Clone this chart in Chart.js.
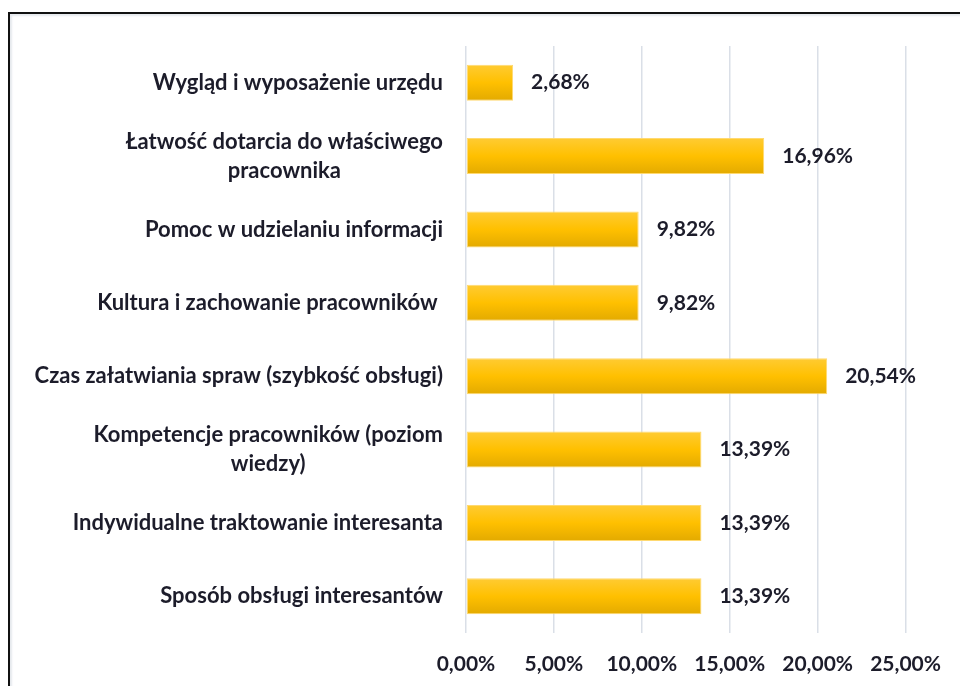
<!DOCTYPE html>
<html>
<head>
<meta charset="utf-8">
<script src="https://cdn.jsdelivr.net/npm/chart.js@4/dist/chart.umd.min.js"></script>
<style>
  html, body { margin: 0; padding: 0; background: #fff; }
  #wrap { position: relative; width: 960px; height: 686px; overflow: hidden; }
  #frame {
    position: absolute; left: 8px; top: 12px; width: 1000px; height: 720px;
    border-left: 2px solid #111; border-top: 2px solid #111;
    box-shadow: inset 2px 2px 2px #e6e9ee;
  }
  canvas { position: absolute; left: 0; top: 0; }
</style>
</head>
<body>
<div id="wrap">
  <div id="frame"></div>
  <canvas id="chart" width="960" height="686"></canvas>
</div>
<script>
// --- DATI ---
const categories = [
  "Wygląd i wyposażenie urzędu",
  ["Łatwość dotarcia do właściwego", "pracownika"],
  "Pomoc w udzielaniu informacji",
  "Kultura i zachowanie pracowników ",
  "Czas załatwiania spraw (szybkość obsługi)",
  ["Kompetencje pracowników (poziom", "wiedzy)"],
  "Indywidualne traktowanie interesanta",
  "Sposób obsługi interesantów"
];

const values = [2.68, 16.96, 9.82, 9.82, 20.54, 13.39, 13.39, 13.39];

const xTicks = [0, 5, 10, 15, 20, 25];

const FONT = "Lato";
const TEXT = "#1c1c2a";
const BAR_PCT = 0.49;

function pct(v) {
  return v.toFixed(2).replace(".", ",") + "%";
}

// gradiente oro per ogni barra
function barFill(c) {
  const ch = c.chart;
  const ys = ch.scales.y;
  const fallback = "#FFC000";
  if (!ys || c.dataIndex == null) return fallback;
  const yc = ys.getPixelForValue(c.dataIndex);
  const h = ys.height / categories.length * BAR_PCT / 2;
  if (!isFinite(yc) || !isFinite(h) || h <= 0) return fallback;
  const g = ch.ctx.createLinearGradient(0, yc - h, 0, yc + h);
  g.addColorStop(0, "#FFCB33");
  g.addColorStop(0.5, "#FFC000");
  g.addColorStop(1, "#E3AA00");
  return g;
}

// --- ETICHETTE CATEGORIE (centrate a blocco, allineate a destra) ---
const categoryLabels = {
  id: "categoryLabels",
  afterDraw(chart) {
    const ctx = chart.ctx;
    const ys = chart.scales.y;
    const right = chart.chartArea.left - 23;
    const lineH = 29;
    ctx.save();
    ctx.font = "bold 22px " + FONT;
    ctx.fillStyle = TEXT;
    ctx.textAlign = "center";
    ctx.textBaseline = "middle";
    categories.forEach((lab, i) => {
      const lines = Array.isArray(lab) ? lab : [lab];
      const w = Math.max(...lines.map(l => ctx.measureText(l).width));
      const cx = right - w / 2;
      const yc = ys.getPixelForValue(i);
      const y0 = yc - (lines.length - 1) * lineH / 2;
      lines.forEach((l, k) => ctx.fillText(l, cx, y0 + k * lineH));
    });
    ctx.restore();
  }
};

// --- VALORI ALLA FINE DELLE BARRE ---
const valueLabels = {
  id: "valueLabels",
  afterDatasetsDraw(chart) {
    const ctx = chart.ctx;
    const meta = chart.getDatasetMeta(0);
    ctx.save();
    ctx.font = "bold 21px " + FONT;
    ctx.fillStyle = TEXT;
    ctx.textAlign = "left";
    ctx.textBaseline = "middle";
    meta.data.forEach((el, i) => {
      ctx.fillText(pct(values[i]), el.x + 18, el.y);
    });
    ctx.restore();
  }
};

new Chart(document.getElementById("chart"), {
  type: "bar",
  data: {
    labels: categories,
    datasets: [{
      data: values,
      backgroundColor: barFill,
      borderColor: "#FFD970",
      borderWidth: 1,
      borderSkipped: false,
      barPercentage: BAR_PCT,
      categoryPercentage: 1
    }]
  },
  options: {
    indexAxis: "y",
    responsive: false,
    devicePixelRatio: 1,
    animation: false,
    layout: { padding: { left: 0, top: 46, right: 54, bottom: 0 } },
    plugins: {
      legend: { display: false },
      tooltip: { enabled: false }
    },
    scales: {
      x: {
        min: 0,
        max: 25,
        afterBuildTicks: s => { s.ticks = xTicks.map(v => ({ value: v })); },
        afterFit: s => { s.height = 53; },
        grid: { color: "#dadfe7", lineWidth: 1.5, drawTicks: false },
        border: { display: false },
        ticks: {
          padding: 19,
          color: TEXT,
          font: { family: FONT, size: 21, weight: "bold" },
          callback: v => pct(v)
        }
      },
      y: {
        afterFit: s => { s.width = 466; },
        grid: { display: false },
        border: { display: false },
        ticks: { display: false }
      }
    }
  },
  plugins: [categoryLabels, valueLabels]
});
</script>
</body>
</html>
